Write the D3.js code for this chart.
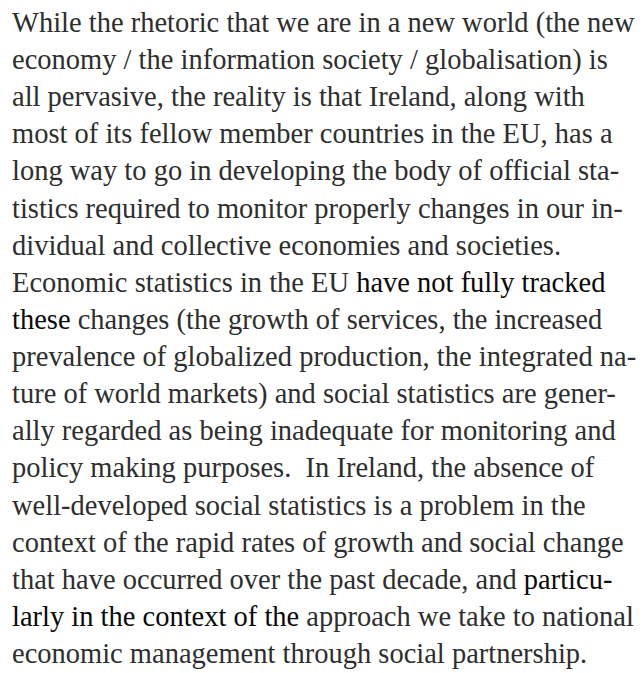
<!DOCTYPE html>
<html>
<head>
<meta charset="utf-8">
<script src="https://cdn.jsdelivr.net/npm/d3@7"></script>
<style>
  html, body { margin: 0; padding: 0; background: #ffffff; }
  svg { display: block; }
</style>
</head>
<body>
<svg id="chart" width="643" height="673"></svg>
<script>
// Text lines of the paragraph (as laid out in the reference)
const lines = [
  "While the rhetoric that we are in a new world (the new",
  "economy / the information society / globalisation) is",
  "all pervasive, the reality is that Ireland, along with",
  "most of its fellow member countries in the EU, has a",
  "long way to go in developing the body of official sta-",
  "tistics required to monitor properly changes in our in-",
  "dividual and collective economies and societies.",
  "Economic statistics in the EU have not fully tracked",
  "these changes (the growth of services, the increased",
  "prevalence of globalized production, the integrated na-",
  "ture of world markets) and social statistics are gener-",
  "ally regarded as being inadequate for monitoring and",
  "policy making purposes.  In Ireland, the absence of",
  "well-developed social statistics is a problem in the",
  "context of the rapid rates of growth and social change",
  "that have occurred over the past decade, and particu-",
  "larly in the context of the approach we take to national",
  "economic management through social partnership."
];
// Phrases printed in a slightly darker ink: [line index, phrase]
const darkPhrases = [
  [7, "have not fully tracked"],
  [8, "these"],
  [15, "particu-"],
  [16, "larly in the context of the"]
];

// ---- layout (not data) ----
const left = 12;
const fontSize = 30, squeeze = 0.95;

const svg = d3.select("#chart");
const y = d3.scaleLinear().domain([0, lines.length - 1]).range([32, 663]);

function segments(line, i) {
  const dp = darkPhrases.filter(d => d[0] === i).map(d => d[1]);
  if (!dp.length) return [{ t: line, dark: false }];
  const p = dp[0];
  const k = line.indexOf(p);
  const out = [];
  if (k > 0) out.push({ t: line.slice(0, k), dark: false });
  out.push({ t: p, dark: true });
  if (k + p.length < line.length) out.push({ t: line.slice(k + p.length), dark: false });
  return out;
}

const text = svg.selectAll("text.line")
  .data(lines)
  .join("text")
  .attr("class", "line")
  .attr("x", 0)
  .attr("y", 0)
  .attr("transform", (d, i) => `translate(${left},${y(i)}) scale(${squeeze},1)`)
  .attr("font-family", "'Liberation Serif', 'Times New Roman', Tinos, serif")
  .attr("font-size", fontSize)
  .style("white-space", "pre")
  .attr("xml:space", "preserve");

text.selectAll("tspan")
  .data((d, i) => segments(d, i))
  .join("tspan")
  .attr("fill", d => d.dark ? "#0a0a0a" : "#2e2e2e")
  .text(d => d.t);
</script>
</body>
</html>
